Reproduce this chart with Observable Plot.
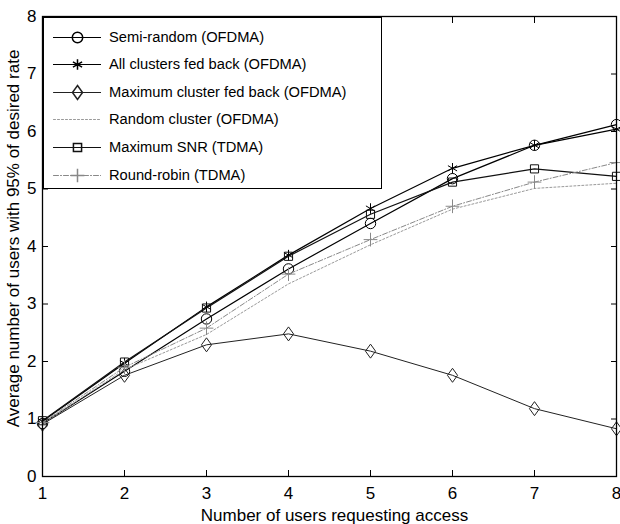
<!DOCTYPE html>
<html>
<head>
<meta charset="utf-8">
<script src="https://cdn.jsdelivr.net/npm/d3@7"></script>
<script src="https://cdn.jsdelivr.net/npm/@observablehq/plot@0.6"></script>
<style>
  html, body { margin: 0; padding: 0; background: #fff; }
  #wrap { position: relative; width: 620px; height: 524px; font-family: "Liberation Sans", Arial, sans-serif; }
  #legend { position: absolute; left: 43px; top: 17px; width: 339px; height: 172px; border: 1px solid #000; background: #fff; box-sizing: border-box; }
  .row { position: absolute; left: 0; height: 20px; display: flex; align-items: center; font-size: 14.7px; color: #000; }
  .row svg { margin-left: 9px; margin-right: 8px; }
</style>
</head>
<body>
<div id="wrap"><div id="chart"></div><div id="legend"></div></div>
<script>
// ---- data ----
const users = [1, 2, 3, 4, 5, 6, 7, 8];
const seriesNames = [
  "Semi-random (OFDMA)",
  "All clusters fed back (OFDMA)",
  "Maximum cluster fed back (OFDMA)",
  "Random cluster (OFDMA)",
  "Maximum SNR (TDMA)",
  "Round-robin (TDMA)"
];
const semiRandom    = [0.92, 1.83, 2.74, 3.61, 4.40, 5.18, 5.76, 6.12];
const allClusters   = [0.96, 1.97, 2.95, 3.85, 4.66, 5.36, 5.76, 6.04];
const maxCluster    = [0.91, 1.76, 2.29, 2.48, 2.18, 1.76, 1.18, 0.83];
const randomCluster = [0.92, 1.86, 2.47, 3.35, 4.03, 4.65, 5.01, 5.10];
const maxSNR        = [0.97, 1.99, 2.93, 3.83, 4.56, 5.12, 5.35, 5.22];
const roundRobin    = [0.94, 1.90, 2.58, 3.52, 4.12, 4.70, 5.12, 5.46];
const xTicks = [1, 2, 3, 4, 5, 6, 7, 8];
const yTicks = [0, 1, 2, 3, 4, 5, 6, 7, 8];

// MATLAB-style diamond (wider than d3's)
const matlabDiamond = {
  draw(ctx, size) {
    const h = Math.sqrt(size / Math.PI) * 1.4;
    const w = h * 0.72;
    ctx.moveTo(0, -h); ctx.lineTo(w, 0); ctx.lineTo(0, h); ctx.lineTo(-w, 0); ctx.closePath();
  }
};

const values = [semiRandom, allClusters, maxCluster, randomCluster, maxSNR, roundRobin];
const styles = [
  {stroke: "#000", dash: null, width: 1.2, symbol: "circle", r: 5.2},
  {stroke: "#000", dash: null, width: 1.2, symbol: "asterisk", r: 5},
  {stroke: "#222", dash: null, width: 1, symbol: matlabDiamond, r: 5},
  {stroke: "#999", dash: "2,2", width: 1, symbol: null, r: 0},
  {stroke: "#111", dash: null, width: 1.2, symbol: "square", r: 4.6},
  {stroke: "#888", dash: "5,2,1,2", width: 1, symbol: "plus", r: 4.5}
];
const rows = values.flatMap((v, i) => users.map((u, j) => ({series: seriesNames[i], x: u, y: v[j]})));

const marks = [];
seriesNames.forEach((name, i) => {
  const s = styles[i];
  const data = rows.filter(d => d.series === name);
  marks.push(Plot.line(data, {x: "x", y: "y", stroke: s.stroke, strokeWidth: s.width, strokeDasharray: s.dash}));
  if (s.symbol) marks.push(Plot.dot(data, {x: "x", y: "y", symbol: s.symbol, r: s.r, stroke: s.stroke, fill: "none", strokeWidth: 1}));
});

const fmt = d => String(d);
const chart = Plot.plot({
  width: 620,
  height: 524,
  marginLeft: 42,
  marginRight: 4,
  marginTop: 16,
  marginBottom: 48,
  style: {fontFamily: "Liberation Sans, Arial, sans-serif", fontSize: "17px", color: "#000", background: "#fff"},
  x: {domain: [1, 8]},
  y: {domain: [0, 8]},
  marks: [
    ...marks,
    Plot.frame({stroke: "#000", strokeWidth: 1.3}),
    Plot.axisX(xTicks, {anchor: "bottom", tickSize: 0, tickPadding: 10, label: null, fontSize: 17, tickFormat: fmt}),
    Plot.axisX(xTicks, {anchor: "bottom", tickSize: -6, text: null, label: null}),
    Plot.axisX(xTicks, {anchor: "top", tickSize: -6, text: null, label: null}),
    Plot.axisY(yTicks, {anchor: "left", tickSize: 0, tickPadding: 6, label: null, fontSize: 17, tickFormat: fmt}),
    Plot.axisY(yTicks, {anchor: "left", tickSize: -6, text: null, label: null}),
    Plot.axisY(yTicks, {anchor: "right", tickSize: -6, text: null, label: null}),
    Plot.text(["Number of users requesting access"], {frameAnchor: "bottom", dy: 44, dx: 5, fontSize: 17, lineAnchor: "bottom", textAnchor: "middle"}),
    Plot.text(["Average number of users with 95% of desired rate"], {frameAnchor: "left", rotate: -90, dx: -29, dy: -8, fontSize: 17, lineAnchor: "middle", textAnchor: "middle"})
  ]
});
document.getElementById("chart").appendChild(chart);

// ---- legend (HTML) ----
const legend = document.getElementById("legend");
const rowTops = [9, 36, 64, 91, 119, 147];
seriesNames.forEach((name, i) => {
  const s = styles[i];
  const row = document.createElement("div");
  row.className = "row";
  row.style.top = rowTops[i] + "px";
  const sw = Plot.plot({
    width: 48, height: 20, margin: 0,
    x: {domain: [0, 1], axis: null}, y: {domain: [0, 1], axis: null},
    marks: [
      Plot.lineY([0.5, 0.5], {x: [0, 1], y: [0.5, 0.5], stroke: s.stroke, strokeWidth: s.width, strokeDasharray: s.dash}),
      s.symbol ? Plot.dot([0.5], {x: [0.5], y: [0.5], symbol: s.symbol, r: s.r, stroke: s.stroke, fill: "none"}) : null
    ]
  });
  row.appendChild(sw);
  const t = document.createElement("span");
  t.textContent = name;
  row.appendChild(t);
  legend.appendChild(row);
});
</script>
</body>
</html>
